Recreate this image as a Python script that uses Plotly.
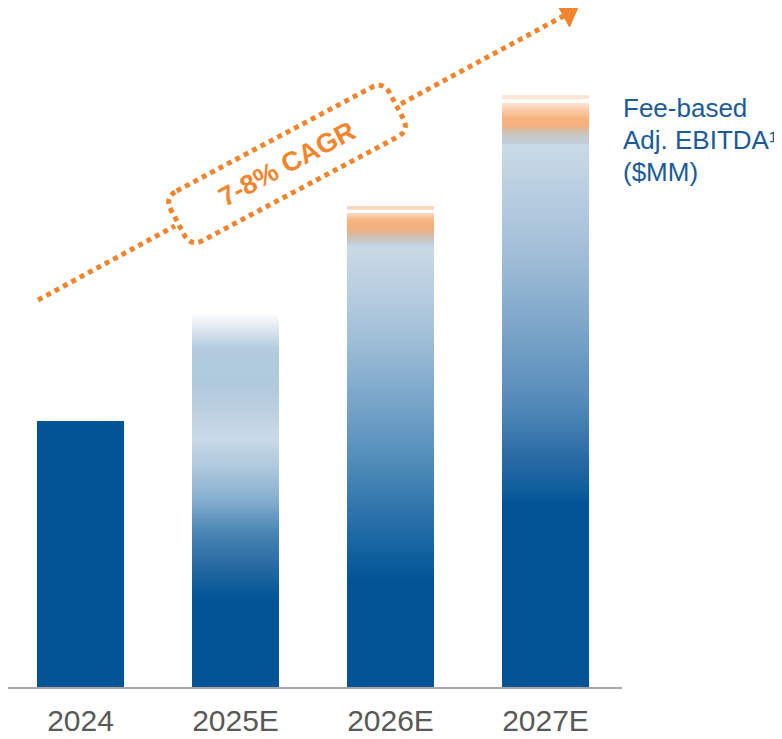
import math
import plotly.graph_objects as go

# ---------------- data ----------------
categories = ["2024", "2025E", "2026E", "2027E"]
values = [100, 140, 181, 223]          # relative Fee-based Adj. EBITDA (index)
cagr_label = "7-8% CAGR"
legend_lines = ["Fee-based", "Adj. EBITDA¹", "($MM)"]

# ---------------- styles ----------------
OFF = 8                      # browser body margin
W, H = 782 - OFF, 739 - OFF
BLUE = "#005496"
ORANGE = "#f0852d"
FONT = "Arial, Liberation Sans, sans-serif"

GRADIENTS = {
    "2024": [(0, BLUE), (1, BLUE)],
    "2025E": [(0, BLUE), (0.235, BLUE), (0.343, "#2e6fa6"), (0.416, "#4a86b5"),
              (0.505, "#86afcf"), (0.595, "#b0c9de"), (0.667, "#c9d9e7"),
              (0.75, "#bccfe0"), (0.82, "#afc9dd"), (0.91, "#b3cbdf"),
              (0.957, "#d8e3ed"), (0.99, "#f3f6f9"), (1.0, "#fafafa")],
    "2026E": [(0, BLUE), (0.217, BLUE), (0.32, "#1f6aa5"), (0.458, "#4d8ab9"),
              (0.598, "#7aa6ca"), (0.737, "#a3c0d9"), (0.84, "#bcd0e2"),
              (0.915, "#cad9e6"), (0.925, "#c4cbd2"), (0.935, "#cdc2b8"),
              (0.946, "#e3b690"), (0.956, "#f4b07a"), (0.973, "#f7b47f"),
              (0.979, "#f8c9a3"), (0.985, "#fad6bb"), (0.9855, "#ffffff"),
              (0.9935, "#ffffff"), (0.994, "#f9d6ba"), (1.0, "#f9d6ba")],
    "2027E": [(0, BLUE), (0.31, BLUE), (0.333, "#0f5d9c"), (0.389, "#2a6ba6"),
              (0.446, "#4580b3"), (0.50, "#5b8fbd"), (0.615, "#7ea7ca"),
              (0.726, "#a0bdd7"), (0.84, "#b9cfe1"), (0.916, "#cadae6"),
              (0.917, "#c2cdd7"), (0.927, "#c4cbd2"), (0.939, "#d3bfae"),
              (0.948, "#f5b07b"), (0.961, "#f8b47e"), (0.970, "#fac39b"),
              (0.978, "#fbd3b7"), (0.986, "#fde4d4"), (0.9865, "#ffffff"),
              (0.9925, "#ffffff"), (0.993, "#fde5d6"), (1.0, "#fde5d6")],
}
N_SEG = 300


def hex2rgb(h):
    h = h.lstrip("#")
    return tuple(int(h[i:i + 2], 16) for i in (0, 2, 4))


def color_at(stops, f):
    for (f0, c0), (f1, c1) in zip(stops[:-1], stops[1:]):
        if f0 <= f <= f1:
            t = 0 if f1 == f0 else (f - f0) / (f1 - f0)
            a, b = hex2rgb(c0), hex2rgb(c1)
            r = [round(a[i] + (b[i] - a[i]) * t) for i in range(3)]
            return "rgb(%d,%d,%d)" % tuple(r)
    return stops[-1][1]


# pixel layout (reference pixel coordinates, shifted by the page margin)
AX_R, AX_B = 622, 687
CAT_PITCH = 155.0
FIRST_CENTER = 80.5
BAR_PX = 87.0
px_per_unit = 592 / values[-1]
x_r0 = -(FIRST_CENTER - OFF) / CAT_PITCH
x_r1 = x_r0 + (AX_R - OFF) / CAT_PITCH
y_max = (AX_B - OFF) / px_per_unit

# ---------------- bars (gradient via stacked segments, each reaching the bar top) ----------------
xs, ys, bases, cols = [], [], [], []
for cat, v in zip(categories, values):
    stops = GRADIENTS[cat]
    step = v / N_SEG
    for k in range(N_SEG):
        f = (k + 0.5) / N_SEG
        xs.append(cat)
        bases.append(step * k)
        ys.append(v - step * k)
        cols.append(color_at(stops, f))

fig = go.Figure(go.Bar(x=xs, y=ys, base=bases, marker=dict(color=cols, line=dict(width=0)),
                       width=BAR_PX / CAT_PITCH, hoverinfo="skip", showlegend=False))

fig.update_layout(
    width=W, height=H, margin=dict(l=0, r=0, t=0, b=0),
    paper_bgcolor="white", plot_bgcolor="white", barmode="overlay",
    xaxis=dict(domain=[0, (AX_R - OFF) / W], range=[x_r0, x_r1], type="category",
               categoryorder="array", categoryarray=categories,
               showline=True, linecolor="#a6a6a6", linewidth=2, showgrid=False,
               zeroline=False, ticks="", tickfont=dict(family=FONT, size=30, color="#595959"),
               ticklabelstandoff=6),
    yaxis=dict(domain=[1 - (AX_B - OFF) / H, 1], range=[0, y_max], visible=False),
)


def P(x, y):
    return (x - OFF) / W, 1 - (y - OFF) / H


# ---------------- CAGR arrow ----------------
S = (38, 300)
E = (563.5, 16)
dx, dy = E[0] - S[0], E[1] - S[1]
L = math.hypot(dx, dy)
u = (dx / L, dy / L)
n = (-u[1], u[0])


def on_line(x):
    t = (x - S[0]) / dx
    return (x, S[1] + t * dy)


dash = "5px,4.5px"
shapes = []
for a, b in [(S, on_line(175)), (on_line(401), E)]:
    pa, pb = P(*a), P(*b)
    shapes.append(dict(type="line", xref="paper", yref="paper", x0=pa[0], y0=pa[1],
                       x1=pb[0], y1=pb[1], line=dict(color=ORANGE, width=5, dash=dash)))

tip = (E[0] + 16 * u[0], E[1] + 16 * u[1])
c1 = (E[0] + 12.5 * n[0], E[1] + 12.5 * n[1])
c2 = (E[0] - 12.5 * n[0], E[1] - 12.5 * n[1])
pts = [P(*tip), P(*c1), P(*c2)]
path = "M %f %f L %f %f L %f %f Z" % (pts[0] + pts[1] + pts[2])
shapes.append(dict(type="path", xref="paper", yref="paper", path=path,
                   fillcolor=ORANGE, line=dict(color=ORANGE, width=1)))

# rounded, rotated dotted box
C = (287, 164)
ang = math.radians(28)
bu = (math.cos(ang), -math.sin(ang))
bn = (math.sin(ang), math.cos(ang))
hl, hw, r = 124, 28, 14


def R(a, b):
    return P(C[0] + a * bu[0] + b * bn[0], C[1] + a * bu[1] + b * bn[1])


seq = [
    ("M", R(-hl + r, -hw)),
    ("L", R(hl - r, -hw)), ("Q", R(hl, -hw), R(hl, -hw + r)),
    ("L", R(hl, hw - r)), ("Q", R(hl, hw), R(hl - r, hw)),
    ("L", R(-hl + r, hw)), ("Q", R(-hl, hw), R(-hl, hw - r)),
    ("L", R(-hl, -hw + r)), ("Q", R(-hl, -hw), R(-hl + r, -hw)),
]
parts = []
for item in seq:
    cmd = item[0]
    coords = " ".join("%f,%f" % p for p in item[1:])
    parts.append(cmd + " " + coords)
box_path = " ".join(parts) + " Z"
shapes.append(dict(type="path", xref="paper", yref="paper", path=box_path,
                   line=dict(color=ORANGE, width=5, dash=dash)))
fig.update_layout(shapes=shapes)

cx, cy = P(*C)
fig.add_annotation(x=cx, y=cy, xref="paper", yref="paper", text="<b>%s</b>" % cagr_label,
                   showarrow=False, textangle=-28, xanchor="center", yanchor="middle",
                   font=dict(family=FONT, size=27, color=ORANGE))

# ---------------- series label ----------------
for line, yc in zip(legend_lines, [108, 140, 172]):
    lx, ly = P(621, yc)
    fig.add_annotation(x=lx, y=ly, xref="paper", yref="paper", text=line, showarrow=False,
                       xanchor="left", yanchor="middle",
                       font=dict(family=FONT, size=26, color="#1c5a99"))

fig.write_html("out.html")
